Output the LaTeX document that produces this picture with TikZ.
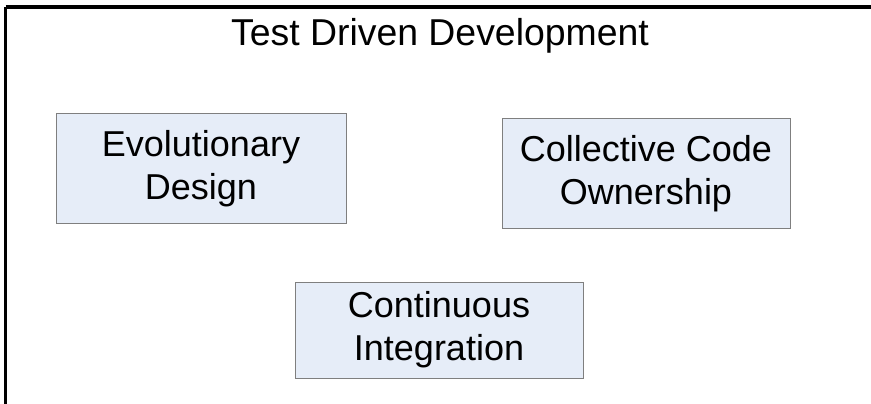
\documentclass[tikz,border=0pt]{standalone}
\usepackage{fontspec}
\setmainfont{Liberation Sans}
\definecolor{boxfill}{HTML}{E6EDF8}
\definecolor{boxline}{HTML}{7F7F7F}
\begin{document}
\begin{tikzpicture}[x=1pt,y=-1pt,
  topic/.style={draw=boxline,line width=1pt,fill=boxfill,inner sep=0pt,
    align=center,font=\fontsize{36}{43}\selectfont},
  heading/.style={inner sep=0pt,font=\fontsize{37.4}{43}\selectfont}]
\useasboundingbox (0,0) rectangle (871,404);
\fill[white] (0,0) rectangle (871,404);
\coordinate (tl) at (5.5,7);
\coordinate (tr) at (871,7);
\coordinate (bl) at (5.5,404);
\draw[line width=4pt] (tl) -- (tr);
\draw[line width=3pt] (tl) -- (bl);
\node[heading,anchor=base] (title) at (440,46) {Test Driven Development};
\node[topic,minimum width=290pt,minimum height=109pt] (ed) at (201,168.5) {Evolutionary\\Design};
\node[topic,minimum width=288pt,minimum height=109pt] (cco) at (646,173.5) {Collective Code\\Ownership};
\node[topic,minimum width=288pt,minimum height=96pt] (ci) at (439,330) {Continuous\\Integration};
\end{tikzpicture}
\end{document}
